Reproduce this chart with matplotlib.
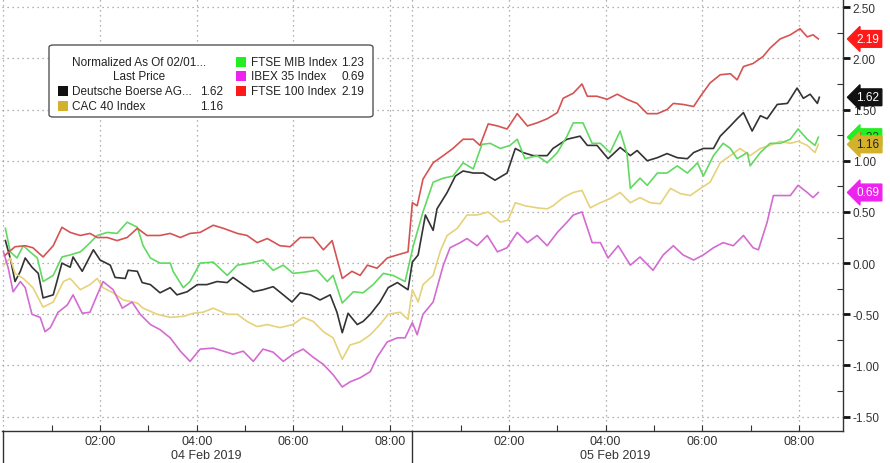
import numpy as np
import matplotlib
matplotlib.use('Agg')
import matplotlib.pyplot as plt
from matplotlib.patches import FancyBboxPatch, Rectangle
from matplotlib.transforms import blended_transform_factory
from matplotlib.ticker import FixedLocator

plt.rcParams['font.family'] = ['Liberation Sans', 'DejaVu Sans']

# x 軸: 連續小時數, 05 Feb 從 DAY2 開始
DAY2 = 8.46

# Deutsche Boerse AG
db_t = [0.04, 0.14, 0.24, 0.35, 0.45, 0.59, 0.72, 0.82, 1.03, 1.21,
        1.38, 1.44, 1.63, 1.86, 2.00, 2.21, 2.31, 2.52, 2.58, 2.77,
        2.87, 3.04, 3.24, 3.45, 3.59, 3.80, 4.01, 4.21, 4.42, 4.63,
        4.75, 4.96, 5.17, 5.37, 5.58, 5.79, 5.97, 6.14, 6.35, 6.55,
        6.76, 6.90, 7.01, 7.13, 7.32, 7.44, 7.59, 7.79, 7.96, 8.15, 8.37,
        8.46, 8.58, 8.73, 8.89, 8.97, 9.18, 9.35, 9.51, 9.72, 9.93,
        10.17, 10.42, 10.59, 10.75, 10.96, 11.25, 11.37, 11.66, 11.93, 12.08,
        12.28, 12.51, 12.76, 12.97, 13.11, 13.32, 13.53, 13.73, 13.94, 14.15,
        14.28, 14.48, 14.69, 14.83, 15.04, 15.18, 15.31, 15.49, 15.66, 15.80,
        16.01, 16.22, 16.42, 16.55, 16.69, 16.84, 16.88]
db_v = [0.22, 0.05, -0.18, -0.08, 0.05, -0.04, -0.10, -0.34, -0.31, 0.00,
        -0.04, 0.06, -0.08, 0.13, 0.03, -0.02, -0.14, -0.15, -0.07, -0.08,
        -0.19, -0.21, -0.29, -0.24, -0.31, -0.28, -0.21, -0.21, -0.18, -0.19,
        -0.14, -0.21, -0.28, -0.26, -0.23, -0.31, -0.38, -0.29, -0.31, -0.36,
        -0.31, -0.48, -0.68, -0.49, -0.60, -0.57, -0.50, -0.38, -0.24, -0.19, -0.26,
        0.01, 0.08, 0.47, 0.32, 0.53, 0.69, 0.85, 0.90, 0.88, 0.88,
        0.81, 0.88, 1.12, 1.08, 1.05, 1.05, 1.12, 1.21, 1.24, 1.15,
        1.15, 1.02, 1.13, 1.05, 1.10, 1.00, 1.03, 1.07, 1.03, 1.02,
        1.08, 1.12, 1.12, 1.24, 1.34, 1.41, 1.47, 1.29, 1.44, 1.41,
        1.55, 1.56, 1.71, 1.61, 1.65, 1.56, 1.62]

# CAC 40 Index
cac_t = [0.00, 0.14, 0.24, 0.41, 0.61, 0.82, 1.03, 1.24, 1.38, 1.59,
         1.79, 1.94, 2.06, 2.27, 2.48, 2.77, 2.89, 3.18, 3.45, 3.72,
         3.93, 4.13, 4.34, 4.63, 4.84, 5.04, 5.25, 5.46, 5.72, 5.99,
         6.20, 6.41, 6.62, 6.82, 7.01, 7.17, 7.38, 7.59, 7.79, 7.96, 8.21, 8.37,
         8.46, 8.58, 8.68, 8.89, 9.04, 9.18, 9.39, 9.59, 9.80, 10.03,
         10.28, 10.44, 10.59, 10.79, 11.04, 11.25, 11.37, 11.58, 11.79, 11.97,
         12.14, 12.35, 12.55, 12.76, 12.97, 13.17, 13.38, 13.59, 13.80, 14.00,
         14.21, 14.42, 14.62, 14.83, 15.04, 15.24, 15.45, 15.66, 15.86, 16.07,
         16.28, 16.44, 16.63, 16.79, 16.86]
cac_v = [-0.02, 0.05, -0.10, -0.15, -0.24, -0.43, -0.38, -0.18, -0.15, -0.26,
         -0.21, -0.15, -0.24, -0.29, -0.36, -0.39, -0.44, -0.50, -0.53, -0.52,
         -0.49, -0.48, -0.44, -0.50, -0.50, -0.57, -0.62, -0.60, -0.63, -0.60,
         -0.53, -0.57, -0.67, -0.73, -0.94, -0.80, -0.77, -0.70, -0.60, -0.50, -0.48, -0.55,
         -0.26, -0.38, -0.21, -0.12, 0.12, 0.27, 0.34, 0.47, 0.47, 0.50,
         0.40, 0.42, 0.59, 0.56, 0.54, 0.53, 0.56, 0.64, 0.69, 0.71,
         0.54, 0.59, 0.63, 0.69, 0.59, 0.64, 0.59, 0.58, 0.73, 0.68,
         0.66, 0.73, 0.79, 0.98, 1.05, 1.12, 1.05, 1.12, 1.15, 1.19,
         1.17, 1.19, 1.15, 1.08, 1.16]

# FTSE MIB Index
mib_t = [0.04, 0.14, 0.28, 0.41, 0.55, 0.70, 0.82, 1.03, 1.21, 1.38,
         1.59, 1.73, 1.94, 2.15, 2.35, 2.56, 2.77, 2.89, 3.04, 3.24,
         3.45, 3.51, 3.72, 3.86, 4.07, 4.34, 4.63, 4.84, 5.10, 5.37,
         5.58, 5.79, 5.99, 6.20, 6.49, 6.70, 6.82, 7.01, 7.24, 7.44,
         7.65, 7.86, 8.06, 8.31,
         8.48, 8.68, 8.89, 9.10, 9.30, 9.51, 9.72, 9.90, 10.07, 10.28,
         10.48, 10.63, 10.79, 11.04, 11.25, 11.46, 11.66, 11.79, 11.99, 12.18,
         12.35, 12.55, 12.76, 12.90, 12.97, 13.17, 13.32, 13.53, 13.73, 13.94,
         14.15, 14.36, 14.48, 14.69, 14.89, 15.04, 15.18, 15.39, 15.45, 15.66,
         15.86, 16.07, 16.28, 16.44, 16.63, 16.79, 16.86]
mib_v = [0.34, 0.11, 0.05, 0.17, 0.11, 0.05, -0.18, -0.12, 0.06, 0.08,
         0.11, 0.17, 0.27, 0.30, 0.29, 0.40, 0.35, 0.17, 0.05, 0.00,
         0.00, -0.08, -0.24, -0.18, 0.00, 0.01, -0.12, -0.02, 0.00, 0.03,
         -0.07, -0.02, -0.10, -0.09, -0.07, -0.18, -0.12, -0.39, -0.28, -0.29,
         -0.21, -0.10, -0.12, -0.18,
         0.17, 0.50, 0.79, 0.83, 0.85, 0.98, 0.92, 1.16, 1.17, 1.12,
         1.15, 1.21, 1.02, 1.05, 0.98, 1.08, 1.24, 1.37, 1.37, 1.17,
         1.17, 1.08, 1.29, 1.07, 0.73, 0.83, 0.76, 0.88, 0.88, 0.95,
         0.88, 0.98, 0.85, 1.05, 1.17, 1.12, 1.02, 1.08, 0.95, 1.08,
         1.17, 1.17, 1.21, 1.31, 1.21, 1.15, 1.23]

# IBEX 35 Index
ibex_t = [0.00, 0.10, 0.20, 0.35, 0.45, 0.59, 0.76, 0.86, 0.97, 1.13,
          1.32, 1.44, 1.63, 1.79, 1.94, 2.06, 2.27, 2.46, 2.66, 2.83,
          3.04, 3.24, 3.45, 3.66, 3.86, 4.07, 4.34, 4.55, 4.75, 4.96,
          5.17, 5.37, 5.58, 5.79, 5.99, 6.20, 6.41, 6.62, 6.82, 7.01,
          7.17, 7.38, 7.59, 7.73, 7.94, 8.15, 8.31,
          8.46, 8.56, 8.68, 8.89, 9.10, 9.24, 9.45, 9.59, 9.80, 10.01,
          10.22, 10.42, 10.63, 10.84, 11.04, 11.25, 11.46, 11.66, 11.79, 11.97,
          12.18, 12.35, 12.51, 12.72, 12.97, 13.17, 13.44, 13.65, 13.86, 14.06,
          14.28, 14.48, 14.69, 14.89, 15.10, 15.31, 15.51, 15.62, 15.80, 15.93,
          16.13, 16.28, 16.44, 16.63, 16.75, 16.86]
ibex_v = [0.11, -0.05, -0.28, -0.18, -0.24, -0.50, -0.53, -0.67, -0.63, -0.48,
          -0.41, -0.31, -0.49, -0.48, -0.31, -0.18, -0.26, -0.44, -0.38, -0.50,
          -0.60, -0.65, -0.73, -0.86, -0.96, -0.84, -0.83, -0.86, -0.89, -0.86,
          -0.96, -0.84, -0.87, -0.96, -0.89, -0.84, -0.92, -0.99, -1.09, -1.21,
          -1.16, -1.12, -1.06, -0.92, -0.77, -0.73, -0.73,
          -0.58, -0.70, -0.50, -0.38, -0.02, 0.15, 0.20, 0.24, 0.17, 0.27,
          0.11, 0.15, 0.30, 0.20, 0.27, 0.17, 0.30, 0.40, 0.47, 0.50,
          0.20, 0.20, 0.05, 0.17, -0.02, 0.06, -0.07, 0.08, 0.17, 0.08,
          0.03, 0.08, 0.15, 0.20, 0.17, 0.27, 0.15, 0.13, 0.40, 0.66,
          0.66, 0.66, 0.76, 0.69, 0.64, 0.69]

# FTSE 100 Index
ftse_t = [0.04, 0.24, 0.45, 0.61, 0.82, 1.03, 1.21, 1.38, 1.59, 1.79,
          1.94, 2.15, 2.35, 2.56, 2.77, 2.97, 3.24, 3.45, 3.66, 3.86,
          4.07, 4.34, 4.55, 4.84, 5.04, 5.25, 5.46, 5.72, 5.93, 6.14,
          6.41, 6.62, 6.80, 7.01, 7.21, 7.38, 7.53, 7.73, 7.94, 8.15, 8.37,
          8.46, 8.56, 8.68, 8.89, 9.10, 9.30, 9.51, 9.72, 9.86, 10.03,
          10.22, 10.42, 10.63, 10.84, 11.04, 11.25, 11.46, 11.58, 11.79, 11.97,
          12.08, 12.28, 12.49, 12.70, 12.90, 13.11, 13.32, 13.53, 13.73, 13.86,
          14.06, 14.28, 14.42, 14.62, 14.83, 15.04, 15.18, 15.31, 15.51, 15.72,
          15.86, 16.07, 16.28, 16.48, 16.63, 16.75, 16.86]
ftse_v = [0.08, 0.16, 0.17, 0.15, 0.06, 0.17, 0.35, 0.30, 0.27, 0.29,
          0.25, 0.25, 0.22, 0.25, 0.34, 0.27, 0.27, 0.29, 0.25, 0.29,
          0.30, 0.37, 0.34, 0.29, 0.27, 0.20, 0.24, 0.17, 0.16, 0.25,
          0.25, 0.13, 0.22, -0.15, -0.08, -0.12, -0.02, -0.05, 0.05, 0.08, 0.11,
          0.59, 0.56, 0.82, 0.98, 1.05, 1.12, 1.21, 1.21, 1.15, 1.36,
          1.34, 1.31, 1.46, 1.34, 1.37, 1.41, 1.47, 1.61, 1.66, 1.75,
          1.63, 1.63, 1.60, 1.65, 1.60, 1.56, 1.46, 1.46, 1.50, 1.56,
          1.55, 1.53, 1.63, 1.76, 1.84, 1.85, 1.79, 1.92, 1.95, 2.02,
          2.10, 2.19, 2.23, 2.29, 2.21, 2.23, 2.19]

names = ['Deutsche Boerse AG...', 'CAC 40 Index', 'FTSE MIB Index',
         'IBEX 35 Index', 'FTSE 100 Index']
last_price = [1.62, 1.16, 1.23, 0.69, 2.19]
time_labels = ['02:00', '04:00', '06:00', '08:00']
day_labels = ['04 Feb 2019', '05 Feb 2019']

series = [(db_t, db_v), (cac_t, cac_v), (mib_t, mib_v), (ibex_t, ibex_v), (ftse_t, ftse_v)]
line_colors = ['#333333', '#e6d27a', '#62d962', '#d36bd3', '#d65353']
tag_colors = ['#111111', '#d4b12a', '#22ee22', '#ee22ee', '#ff1a1a']
tag_text = ['white', '#222222', '#224422', 'white', 'white']

W, H = 890, 464


def fx(px):
    return px / W


def fy(py):
    return 1 - py / H


def plot_chart():
    fig = plt.figure(figsize=(W / 100, H / 100), dpi=100)
    ax = fig.add_axes([fx(2), 32 / H, (843 - 2) / W, 432 / H])

    for (t, v), c in zip(series, line_colors):
        ax.plot(t, v, color=c, lw=1.2, zorder=3)

    ax.set_xlim(-0.03, 17.37)
    ax.set_ylim(-1.64, 2.58)

    # 格線
    for x in [0, 2, 4, 6, 8, DAY2, DAY2 + 2, DAY2 + 4, DAY2 + 6, DAY2 + 8]:
        ax.axvline(x, color='#999999', lw=0.9, ls=(0, (1, 3)), zorder=1)
    for y in np.arange(-1.5, 2.51, 0.5):
        ax.axhline(y, color='#999999', lw=0.9, ls=(0, (1, 3)), zorder=1)

    # x 軸
    major = [2, 4, 6, 8] + [DAY2 + h for h in [2, 4, 6, 8]]
    ax.set_xticks(major)
    ax.set_xticklabels(time_labels * 2)
    ax.xaxis.set_minor_locator(FixedLocator([1, 3, 5, 7] + [DAY2 + h for h in [1, 3, 5, 7]]))
    ax.tick_params(axis='x', which='both', direction='in', length=4, width=0.8,
                   color='#333333', labelsize=9, labelcolor='#333333', pad=3)

    # y 軸 (右側)
    ax.yaxis.tick_right()
    ax.set_yticks(np.arange(-1.5, 2.51, 0.5))
    ax.set_yticklabels([f'{y:.2f}' for y in np.arange(-1.5, 2.51, 0.5)])
    ax.yaxis.set_minor_locator(FixedLocator(np.arange(-1.25, 2.6, 0.5)))
    ax.tick_params(axis='y', which='major', direction='out', length=5, width=2,
                   color='#111111', labelsize=8.5, labelcolor='#333333', pad=2)
    ax.tick_params(axis='y', which='minor', direction='in', length=4, width=0.8, color='#333333')

    for s in ['top', 'left']:
        ax.spines[s].set_visible(False)
    for s in ['bottom', 'right']:
        ax.spines[s].set_color('#333333')
        ax.spines[s].set_linewidth(1)

    # 日期標籤與分隔線
    xtr = blended_transform_factory(ax.transData, ax.transAxes)
    for x in [0, DAY2]:
        ax.plot([x, x], [0, -0.08], transform=xtr, color='#333333', lw=1, clip_on=False)
    for x, lab in zip([4.2, DAY2 + 4.2], day_labels):
        ax.text(x, -0.056, lab, transform=xtr, ha='center', va='center',
                fontsize=9, color='#333333')

    # 右側最新值標籤
    ytr = blended_transform_factory(ax.transAxes, ax.transData)
    for i in [4, 0, 2, 1, 3]:
        ax.text(1.016, last_price[i], f'{last_price[i]:.2f}', transform=ytr,
                ha='left', va='center', fontsize=8.5, color=tag_text[i], zorder=6,
                bbox=dict(boxstyle='larrow,pad=0.2', fc=tag_colors[i], ec=tag_colors[i]),
                clip_on=False)

    # 圖例
    box = FancyBboxPatch((fx(49), fy(118)), (373 - 49) / W, (118 - 46) / H,
                         boxstyle='round,pad=0,rounding_size=0.005',
                         transform=fig.transFigure, fc='white', ec='#555555', lw=1)
    fig.add_artist(box)
    fig.text(fx(139), fy(63), 'Normalized As Of 02/01...', ha='center', va='center',
             fontsize=8.5, color='#222222')
    fig.text(fx(139), fy(77), 'Last Price', ha='center', va='center',
             fontsize=8.5, color='#222222')
    rows = [(58, 72, 223, 92), (58, 72, 223, 107),
            (236, 251, 364, 63), (236, 251, 364, 77), (236, 251, 364, 92)]
    for i, (sx, tx, vx, yy) in enumerate(rows):
        fig.add_artist(Rectangle((fx(sx), fy(yy + 5)), 10 / W, 10 / H,
                                 transform=fig.transFigure, fc=tag_colors[i], ec='none'))
        fig.text(fx(tx), fy(yy), names[i], ha='left', va='center', fontsize=8.5, color='#222222')
        fig.text(fx(vx), fy(yy), f'{last_price[i]:.2f}', ha='right', va='center',
                 fontsize=8.5, color='#222222')

    fig.savefig('out.png', dpi=100)


if __name__ == '__main__':
    plot_chart()
